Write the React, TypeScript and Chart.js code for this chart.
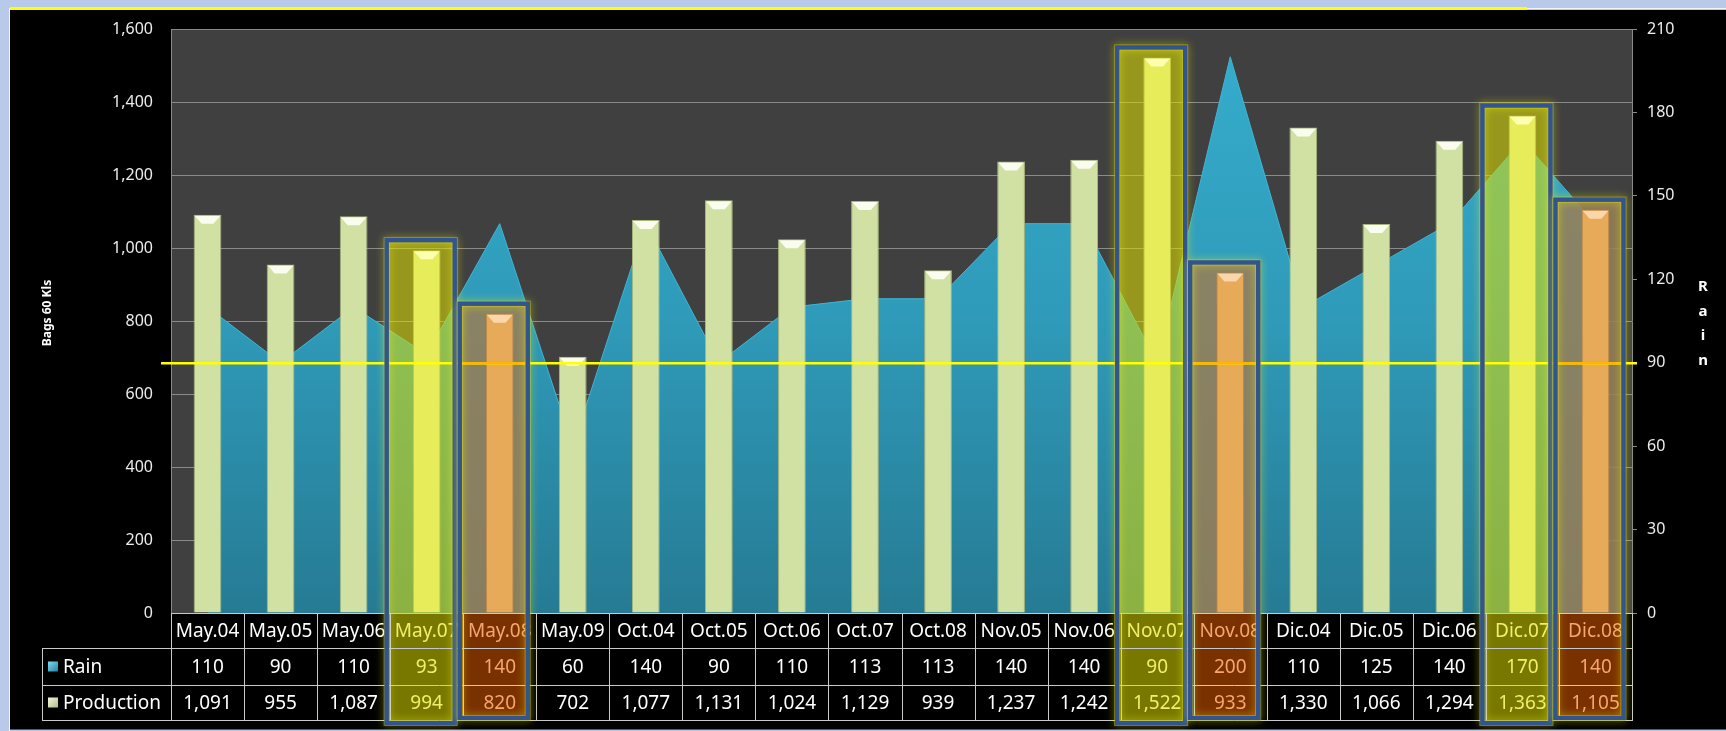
import React, { useEffect, useRef } from 'react';
import { Chart, registerables } from 'chart.js';

Chart.register(...registerables);

const W = 1726;
const H = 731;

const categories = ['May.04', 'May.05', 'May.06', 'May.07', 'May.08', 'May.09', 'Oct.04', 'Oct.05', 'Oct.06', 'Oct.07', 'Oct.08', 'Nov.05', 'Nov.06', 'Nov.07', 'Nov.08', 'Dic.04', 'Dic.05', 'Dic.06', 'Dic.07', 'Dic.08'];
const rain = [110, 90, 110, 93, 140, 60, 140, 90, 110, 113, 113, 140, 140, 90, 200, 110, 125, 140, 170, 140];
const production = [1091, 955, 1087, 994, 820, 702, 1077, 1131, 1024, 1129, 939, 1237, 1242, 1522, 933, 1330, 1066, 1294, 1363, 1105];
const yellowMarked = ['May.07', 'Nov.07', 'Dic.07'];
const orangeMarked = ['May.08', 'Nov.08', 'Dic.08'];
const rainThreshold = 90;
const leftAxisRange = [0, 1600, 200];
const rightAxisRange = [0, 210, 30];
const seriesNames = ['Rain', 'Production'];
const leftTitle = 'Bags 60 Kls';
const rightTitle = 'Rain';

const FONT = '"Noto Sans", sans-serif';
const TABLE_BOTTOM = 720;
const LEGEND_LEFT = 42;

const kind = (i: number) =>
  yellowMarked.includes(categories[i]) ? 'y' : orangeMarked.includes(categories[i]) ? 'o' : 'n';

const barFill = { n: '#d0e1a3', y: '#e7ed5a', o: '#e6aa58' } as Record<string, string>;
const barEdge = { n: '#a6b57e', y: '#c2c640', o: '#c08540' } as Record<string, string>;
const bevelFill = { n: '#fafdee', y: '#fdffb0', o: '#fbd6aa' } as Record<string, string>;
const textCol = { n: '#ffffff', y: '#f0f066', o: '#f6a66e' } as Record<string, string>;
const cellBg = { y: '#787800', o: '#7a3100' } as Record<string, string>;
const boxFill = { y: 'rgba(222,222,0,0.55)', o: 'rgba(150,126,88,0.88)' } as Record<string, string>;

const boxSpan = (cx: number) => [cx - 40, cx + 28];

const decor = {
  id: 'decor',
  beforeDraw(chart: any) {
    const { ctx, chartArea: ca, scales } = chart;
    ctx.save();
    ctx.fillStyle = '#b9c9e9';
    ctx.fillRect(0, 0, W, H);
    ctx.fillStyle = '#000000';
    ctx.fillRect(10, 10, W - 10, H - 12);
    ctx.fillStyle = '#f4f4f4';
    ctx.fillRect(9, 8, 1, H);
    ctx.fillRect(1527, 8, W - 1527, 1);
    ctx.fillStyle = '#ffff00';
    ctx.fillRect(10, 7, 1517, 3);
    ctx.fillStyle = '#5a5a5a';
    ctx.fillRect(10, H - 2, W - 10, 1);
    ctx.fillStyle = '#404040';
    ctx.fillRect(ca.left, ca.top, ca.right - ca.left, ca.bottom - ca.top);
    categories.forEach((_, i) => {
      const k = kind(i);
      if (k === 'n') return;
      const cx = scales.x.getPixelForValue(i);
      const [l, r] = boxSpan(cx);
      ctx.fillStyle = cellBg[k];
      ctx.fillRect(l, ca.bottom, r - l, TABLE_BOTTOM - ca.bottom);
    });
    ctx.restore();
  },
  beforeDatasetDraw(chart: any, args: any) {
    if (args.index !== 1) return;
    const { ctx, chartArea: ca, scales } = chart;
    ctx.save();
    categories.forEach((_, i) => {
      const k = kind(i);
      if (k === 'n') return;
      const cx = scales.x.getPixelForValue(i);
      const [l, r] = boxSpan(cx);
      const top = scales.y.getPixelForValue(production[i]) - 10;
      ctx.fillStyle = boxFill[k];
      ctx.fillRect(l, top, r - l, ca.bottom - top);
    });
    ctx.restore();
  },
  afterDatasetDraw(chart: any, args: any) {
    if (args.index !== 1) return;
    const { ctx } = chart;
    const meta = chart.getDatasetMeta(1);
    ctx.save();
    meta.data.forEach((bar: any, i: number) => {
      const { x, y, width } = bar.getProps(['x', 'y', 'width'], true);
      const l = x - width / 2 + 1;
      const r = x + width / 2 - 1;
      ctx.fillStyle = bevelFill[kind(i)];
      ctx.beginPath();
      ctx.moveTo(l, y + 1);
      ctx.lineTo(r, y + 1);
      ctx.lineTo(r - 7, y + 9);
      ctx.lineTo(l + 7, y + 9);
      ctx.closePath();
      ctx.fill();
    });
    ctx.restore();
  },
  afterDraw(chart: any) {
    const { ctx, chartArea: ca, scales } = chart;
    const xs = scales.x;
    const n = categories.length;
    ctx.save();

    const ty = Math.round(scales.y1.getPixelForValue(rainThreshold));
    ctx.fillStyle = '#ffff00';
    ctx.fillRect(161, ty - 1, ca.right + 5 - 161, 2.5);
    categories.forEach((_, i) => {
      if (kind(i) !== 'o') return;
      const [l, r] = boxSpan(xs.getPixelForValue(i));
      ctx.fillStyle = '#ffb400';
      ctx.fillRect(l, ty - 1, r - l, 2.5);
    });

    const rows = [ca.bottom, ca.bottom + 35, ca.bottom + 72, TABLE_BOTTOM];
    ctx.strokeStyle = '#c9c9c9';
    ctx.lineWidth = 1;
    const hline = (x1: number, x2: number, y: number) => {
      ctx.beginPath();
      ctx.moveTo(x1, Math.round(y) + 0.5);
      ctx.lineTo(x2, Math.round(y) + 0.5);
      ctx.stroke();
    };
    const vline = (x: number, y1: number, y2: number) => {
      ctx.beginPath();
      ctx.moveTo(Math.round(x) + 0.5, y1);
      ctx.lineTo(Math.round(x) + 0.5, y2);
      ctx.stroke();
    };
    hline(ca.left, ca.right, rows[0]);
    hline(LEGEND_LEFT, ca.right, rows[1]);
    hline(LEGEND_LEFT, ca.right, rows[2]);
    hline(LEGEND_LEFT, ca.right, rows[3]);
    vline(LEGEND_LEFT, rows[1], rows[3] + 1);
    for (let i = 0; i <= n; i++) {
      let bx;
      if (i === 0) bx = ca.left;
      else if (i === n) bx = ca.right;
      else bx = (xs.getPixelForValue(i - 1) + xs.getPixelForValue(i)) / 2;
      vline(bx, rows[0], rows[3] + 1);
    }

    ctx.font = `19px ${FONT}`;
    ctx.textAlign = 'center';
    ctx.textBaseline = 'middle';
    const rainY = (rows[1] + rows[2]) / 2 + 1;
    const prodY = (rows[2] + rows[3]) / 2 + 1;
    categories.forEach((_, i) => {
      const cx = xs.getPixelForValue(i);
      ctx.fillStyle = textCol[kind(i)];
      ctx.fillText(String(rain[i]), cx, rainY);
      ctx.fillText(production[i].toLocaleString('en-US'), cx, prodY);
    });

    const keys = [
      { y: rainY, c1: '#7ad6f0', c2: '#1f7f9e' },
      { y: prodY, c1: '#f2f6dc', c2: '#a9b985' },
    ];
    keys.forEach((k, j) => {
      const g = ctx.createLinearGradient(48, k.y - 5, 58, k.y + 5);
      g.addColorStop(0, k.c1);
      g.addColorStop(1, k.c2);
      ctx.fillStyle = g;
      ctx.fillRect(48, k.y - 6, 10, 10);
      ctx.fillStyle = '#ffffff';
      ctx.textAlign = 'left';
      ctx.fillText(seriesNames[j], 63, k.y);
    });

    categories.forEach((_, i) => {
      const k = kind(i);
      if (k === 'n') return;
      const cx = xs.getPixelForValue(i);
      const [l, r] = boxSpan(cx);
      const top = scales.y.getPixelForValue(production[i]) - 10;
      const h = TABLE_BOTTOM - top + (k === 'y' ? 3 : -2);
      ctx.save();
      ctx.shadowColor = 'rgba(255,255,0,0.8)';
      ctx.shadowBlur = 8;
      ctx.strokeStyle = 'rgba(230,230,0,0.5)';
      ctx.lineWidth = 6;
      ctx.strokeRect(l, top, r - l, h);
      ctx.restore();
      ctx.strokeStyle = '#33548f';
      ctx.lineWidth = 4.5;
      ctx.strokeRect(l, top, r - l, h);
    });

    ctx.fillStyle = '#ffffff';
    ctx.font = `bold 12px ${FONT}`;
    ctx.textAlign = 'center';
    ctx.textBaseline = 'middle';
    ctx.save();
    ctx.translate(48, 313);
    ctx.rotate(-Math.PI / 2);
    ctx.fillText(leftTitle, 0, 0);
    ctx.restore();
    ctx.font = `bold 15px ${FONT}`;
    rightTitle.split('').forEach((ch, j) => {
      ctx.fillText(ch, 1703, 287 + j * 24.5);
    });

    ctx.restore();
  },
};

export default function App() {
  const ref = useRef<HTMLCanvasElement>(null);
  useEffect(() => {
    document.body.style.margin = '0';
    document.body.style.overflow = 'hidden';
    const canvas = ref.current!;
    const chart = new Chart(canvas, {
      type: 'bar',
      data: {
        labels: categories,
        datasets: [
          {
            type: 'line',
            label: seriesNames[0],
            data: rain,
            yAxisID: 'y1',
            fill: 'origin',
            order: 2,
            tension: 0,
            pointRadius: 0,
            borderWidth: 1,
            borderColor: '#3db6d6',
            backgroundColor: (c: any) => {
              const ca = c.chart.chartArea;
              if (!ca) return '#2e9ab9';
              const g = c.chart.ctx.createLinearGradient(0, ca.top, 0, ca.bottom);
              g.addColorStop(0, '#36adcd');
              g.addColorStop(0.5, '#2f9ab9');
              g.addColorStop(1, '#267b94');
              return g;
            },
          } as any,
          {
            type: 'bar',
            label: seriesNames[1],
            data: production,
            yAxisID: 'y',
            order: 1,
            barPercentage: 0.38,
            categoryPercentage: 1,
            backgroundColor: categories.map((_, i) => barFill[kind(i)]),
            borderColor: categories.map((_, i) => barEdge[kind(i)]),
            borderWidth: 1,
          } as any,
        ],
      },
      options: {
        responsive: false,
        animation: false,
        layout: { padding: { top: 29, bottom: 11, left: 0, right: 0 } },
        plugins: { legend: { display: false }, tooltip: { enabled: false } },
        scales: {
          x: {
            offset: true,
            grid: { display: false, drawTicks: false },
            border: { display: false },
            ticks: {
              autoSkip: false,
              maxRotation: 0,
              minRotation: 0,
              padding: 7,
              font: { family: FONT, size: 19 },
              color: (c: any) => textCol[kind(c.index)],
            },
            afterFit: (s: any) => {
              s.height = 107;
            },
          },
          y: {
            position: 'left',
            min: leftAxisRange[0],
            max: leftAxisRange[1],
            ticks: {
              stepSize: leftAxisRange[2],
              padding: 18,
              color: '#ececec',
              font: { family: FONT, size: 16 },
              callback: (v: any) => Number(v).toLocaleString('en-US'),
            },
            grid: { color: '#8a8a8a', drawTicks: false },
            border: { display: true, color: '#8a8a8a' },
            afterFit: (s: any) => {
              s.width = 171;
            },
          },
          y1: {
            position: 'right',
            min: rightAxisRange[0],
            max: rightAxisRange[1],
            ticks: {
              stepSize: rightAxisRange[2],
              padding: 10,
              color: '#ececec',
              font: { family: FONT, size: 16 },
            },
            grid: { drawOnChartArea: false, tickLength: 5, color: '#8a8a8a' },
            border: { display: true, color: '#8a8a8a' },
            afterFit: (s: any) => {
              s.width = 94;
            },
          },
        },
      },
      plugins: [decor],
    } as any);
    return () => chart.destroy();
  }, []);
  return (
    <canvas
      ref={ref}
      width={W}
      height={H}
      style={{ position: 'fixed', left: 0, top: 0, width: W, height: H }}
    />
  );
}
